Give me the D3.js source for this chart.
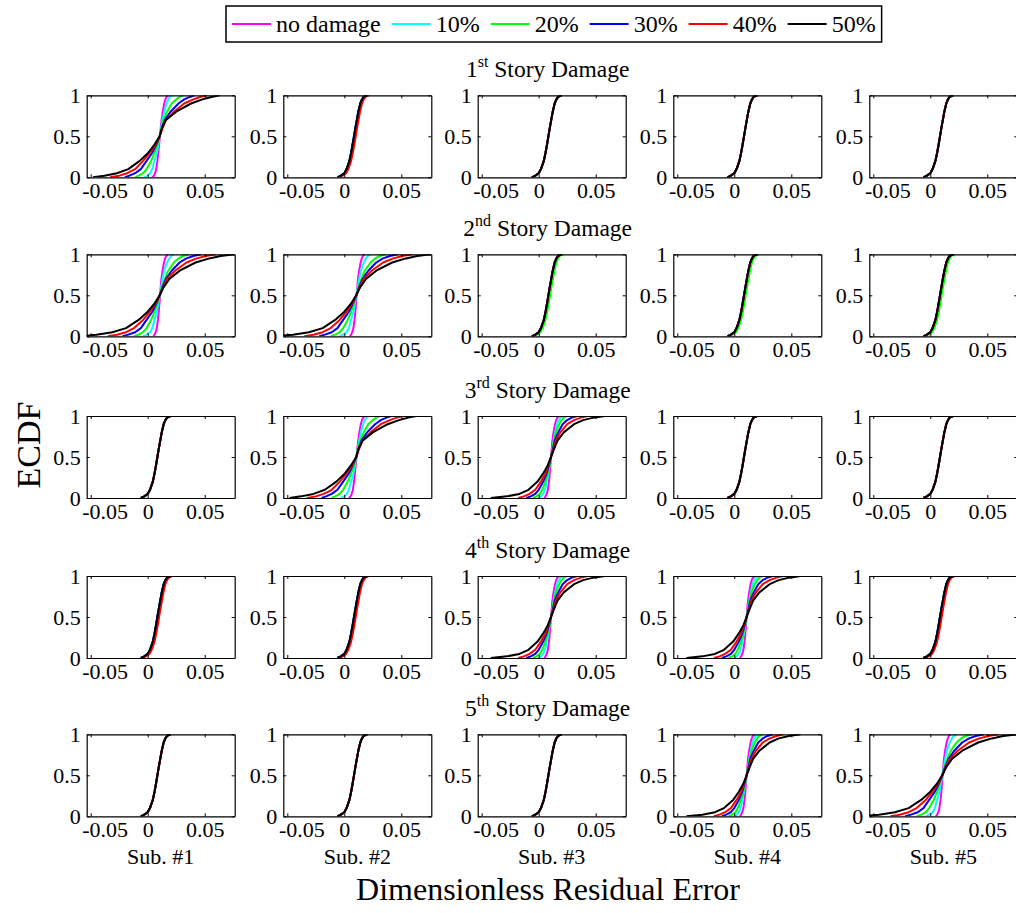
<!DOCTYPE html>
<html>
<head>
<meta charset="utf-8">
<script src="https://cdn.jsdelivr.net/npm/d3@7"></script>
<style>
body { margin: 0; background: #fff; }
text { font-family: "Liberation Serif", "Times New Roman", serif; fill: #000; }
</style>
</head>
<body>
<div id="vis"></div>
<script>
// ---- data ----
const seriesNames = ['no damage', '10%', '20%', '30%', '40%', '50%']
const seriesColors = ['#ff00ff', '#00ffff', '#00ff00', '#0000ff', '#ff0000', '#000000']
const storyLabels = ['1', '2', '3', '4', '5']
const storySuffix = ['st', 'nd', 'rd', 'th', 'th']
const subLabels = ['Sub. #1', 'Sub. #2', 'Sub. #3', 'Sub. #4', 'Sub. #5']
const xTicks = [-0.05, 0, 0.05]
const xTickLabels = ['-0.05', '0', '0.05']
const yTicks = [0, 0.5, 1]
const yTickLabels = ['0', '0.5', '1']

// ECDF levels at which the residual (x) was read for each curve
const fLevels = [0, 0.02, 0.05, 0.1, 0.2, 0.3, 0.4, 0.5, 0.6, 0.7, 0.8, 0.9, 0.95, 0.98, 1]

// curve shapes, one array per damage level (no damage .. 50%)
const wideCurves = [
  [0.004, 0.0055, 0.0065, 0.0075, 0.0085, 0.0093, 0.0100, 0.0107, 0.0114, 0.0122, 0.0132, 0.0145, 0.0155, 0.0165, 0.018],
  [-0.003, 0.000, 0.002, 0.004, 0.006, 0.008, 0.0093, 0.0105, 0.0118, 0.013, 0.0145, 0.0165, 0.018, 0.0195, 0.021],
  [-0.011, -0.008, -0.004, -0.001, 0.003, 0.006, 0.0085, 0.0105, 0.012, 0.014, 0.017, 0.021, 0.025, 0.028, 0.031],
  [-0.020, -0.016, -0.011, -0.006, -0.001, 0.004, 0.0075, 0.0105, 0.0125, 0.015, 0.020, 0.027, 0.032, 0.037, 0.041],
  [-0.033, -0.025, -0.018, -0.011, -0.004, 0.002, 0.007, 0.0105, 0.013, 0.016, 0.023, 0.032, 0.040, 0.046, 0.052],
  [-0.048, -0.038, -0.027, -0.017, -0.007, 0.0005, 0.006, 0.0105, 0.0125, 0.016, 0.025, 0.038, 0.048, 0.056, 0.063]
]
const wideBCurves = [
  [0.005, 0.006, 0.007, 0.008, 0.009, 0.0097, 0.0103, 0.0108, 0.0114, 0.012, 0.013, 0.0143, 0.0153, 0.0163, 0.018],
  [-0.004, -0.001, 0.002, 0.004, 0.006, 0.008, 0.0093, 0.0105, 0.0118, 0.013, 0.0145, 0.017, 0.019, 0.0205, 0.023],
  [-0.012, -0.008, -0.004, -0.001, 0.003, 0.006, 0.0085, 0.0105, 0.0125, 0.015, 0.018, 0.023, 0.027, 0.031, 0.036],
  [-0.022, -0.017, -0.011, -0.006, -0.001, 0.004, 0.0075, 0.0105, 0.013, 0.016, 0.021, 0.028, 0.034, 0.040, 0.047],
  [-0.035, -0.027, -0.019, -0.012, -0.004, 0.002, 0.007, 0.0105, 0.0135, 0.017, 0.024, 0.034, 0.043, 0.051, 0.060],
  [-0.060, -0.045, -0.031, -0.019, -0.008, 0.000, 0.006, 0.0105, 0.014, 0.019, 0.028, 0.042, 0.054, 0.064, 0.076]
]
const midCurves = [
  [0.005, 0.006, 0.007, 0.008, 0.009, 0.0097, 0.0103, 0.0108, 0.0114, 0.012, 0.013, 0.0143, 0.0153, 0.0163, 0.018],
  [0.000, 0.002, 0.004, 0.0055, 0.007, 0.0085, 0.0097, 0.0108, 0.012, 0.013, 0.0145, 0.016, 0.0175, 0.019, 0.021],
  [-0.005, -0.002, 0.001, 0.003, 0.006, 0.008, 0.0095, 0.0108, 0.012, 0.0135, 0.015, 0.018, 0.020, 0.022, 0.025],
  [-0.011, -0.007, -0.003, 0.000, 0.004, 0.007, 0.009, 0.0108, 0.0125, 0.014, 0.017, 0.021, 0.025, 0.029, 0.034],
  [-0.018, -0.013, -0.008, -0.003, 0.002, 0.006, 0.0085, 0.0108, 0.013, 0.015, 0.019, 0.025, 0.031, 0.037, 0.043],
  [-0.042, -0.028, -0.017, -0.009, -0.001, 0.004, 0.008, 0.0108, 0.0135, 0.0165, 0.022, 0.031, 0.039, 0.048, 0.058]
]
const narrowBase = [-0.006, -0.003, 0.000, 0.002, 0.0045, 0.006, 0.0073, 0.0085, 0.0097, 0.011, 0.0123, 0.014, 0.0155, 0.017, 0.020]
const narrowShift = [-0.0045, -0.0015, 0.0015, 0.0035, 0.006, 0.0075, 0.0088, 0.010, 0.0112, 0.0125, 0.0138, 0.0155, 0.017, 0.0185, 0.0215]
const narrowCurves = [narrowBase, narrowBase, narrowBase, narrowBase, narrowBase, narrowBase]
const narrowRedCurves = [narrowBase, narrowBase, narrowBase, narrowBase, narrowShift, narrowBase]
const narrowGreenCurves = [narrowBase, narrowBase, narrowShift, narrowBase, narrowBase, narrowBase]

// which shape each panel shows: rows = damaged story, columns = substructure
const panelShapes = [
  [wideCurves, narrowRedCurves, narrowCurves, narrowCurves, narrowCurves],
  [wideBCurves, wideBCurves, narrowGreenCurves, narrowGreenCurves, narrowGreenCurves],
  [narrowCurves, wideCurves, midCurves, narrowCurves, narrowCurves],
  [narrowRedCurves, narrowRedCurves, midCurves, midCurves, narrowRedCurves],
  [narrowCurves, narrowCurves, narrowCurves, midCurves, wideBCurves]
]

// ---- layout ----
const panelW = 148, panelH = 82
const colLeft = [86.7, 283.3, 477.7, 673.3, 869.3]
const rowTop = [95.3, 254.3, 416, 576, 734.3]
const serif = '"Liberation Serif", "Times New Roman", serif'

const svg = d3.select('#vis').append('svg')
  .attr('width', 1016)
  .attr('height', 913)

const x = d3.scaleLinear().domain([-0.0535, 0.0763]).range([0, panelW])
const y = d3.scaleLinear().domain([0, 1]).range([panelH, 0])

const line = d3.line()
  .x(d => x(d[0]))
  .y(d => y(d[1]))

svg.append('defs').append('clipPath')
  .attr('id', 'panel-clip')
  .append('rect')
  .attr('width', panelW)
  .attr('height', panelH)

panelShapes.forEach((row, r) => {
  row.forEach((curves, c) => {
    let g = svg.append('g')
      .attr('transform', `translate(${colLeft[c]},${rowTop[r]})`)

    let plot = g.append('g').attr('clip-path', 'url(#panel-clip)')
    curves.forEach((qs, k) => {
      plot.append('path')
        .datum(qs.map((v, i) => [v, fLevels[i]]))
        .attr('fill', 'none')
        .attr('stroke', seriesColors[k])
        .attr('stroke-width', 2)
        .attr('stroke-linejoin', 'round')
        .attr('d', line)
    })

    // axes, MATLAB style: box with inward ticks
    g.append('g')
      .attr('transform', `translate(0,${panelH})`)
      .call(d3.axisBottom(x).tickValues(xTicks)
        .tickFormat((d, i) => xTickLabels[i])
        .tickSizeInner(-3).tickSizeOuter(0).tickPadding(5))
      .call(a => a.selectAll('.tick text').filter(d => d < 0).attr('dx', 14))
    g.append('g')
      .call(d3.axisTop(x).tickValues(xTicks).tickFormat('')
        .tickSizeInner(-3).tickSizeOuter(0))
    g.append('g')
      .call(d3.axisLeft(y).tickValues(yTicks)
        .tickFormat((d, i) => yTickLabels[i])
        .tickSizeInner(-3).tickSizeOuter(0).tickPadding(6))
    g.append('g')
      .attr('transform', `translate(${panelW},0)`)
      .call(d3.axisRight(y).tickValues(yTicks).tickFormat('')
        .tickSizeInner(-3).tickSizeOuter(0))

    g.selectAll('.domain').attr('stroke', '#000').attr('stroke-width', 1.2)
    g.selectAll('.tick line').attr('stroke', '#000')
    g.selectAll('.tick text')
      .attr('font-family', serif)
      .attr('font-size', 22)
  })
})

// row titles
storyLabels.forEach((s, r) => {
  let t = svg.append('text')
    .attr('x', colLeft[2] + panelW / 2 - 4)
    .attr('y', rowTop[r] - 18)
    .attr('text-anchor', 'middle')
    .attr('font-size', 23.5)
  t.append('tspan').text(s)
  t.append('tspan').attr('font-size', 16).attr('dy', -10).text(storySuffix[r])
  t.append('tspan').attr('dy', 10).text(' Story Damage')
})

// substructure labels
subLabels.forEach((s, c) => {
  svg.append('text')
    .attr('x', colLeft[c] + panelW / 2)
    .attr('y', rowTop[4] + panelH + 48)
    .attr('text-anchor', 'middle')
    .attr('font-size', 22)
    .text(s)
})

svg.append('text')
  .attr('x', 548)
  .attr('y', 900)
  .attr('text-anchor', 'middle')
  .attr('font-size', 32)
  .text('Dimensionless Residual Error')

svg.append('text')
  .attr('transform', 'translate(40,445) rotate(-90)')
  .attr('text-anchor', 'middle')
  .attr('font-size', 34)
  .text('ECDF')

// legend
let legend = svg.append('g').attr('class', 'legend')
let box = legend.append('rect')
  .attr('x', 226).attr('y', 6)
  .attr('height', 36)
  .attr('fill', '#fff')
  .attr('stroke', '#000')
  .attr('stroke-width', 1.5)
let cx = 232
seriesNames.forEach((name, i) => {
  legend.append('line')
    .attr('x1', cx).attr('x2', cx + 39)
    .attr('y1', 24).attr('y2', 24)
    .attr('stroke', seriesColors[i])
    .attr('stroke-width', 2)
  let t = legend.append('text')
    .attr('x', cx + 44)
    .attr('y', 32)
    .attr('font-size', 24)
    .text(name)
  cx += 44 + t.node().getComputedTextLength() + 11
})
box.attr('width', cx - 11 + 6 - 226)
</script>
</body>
</html>
